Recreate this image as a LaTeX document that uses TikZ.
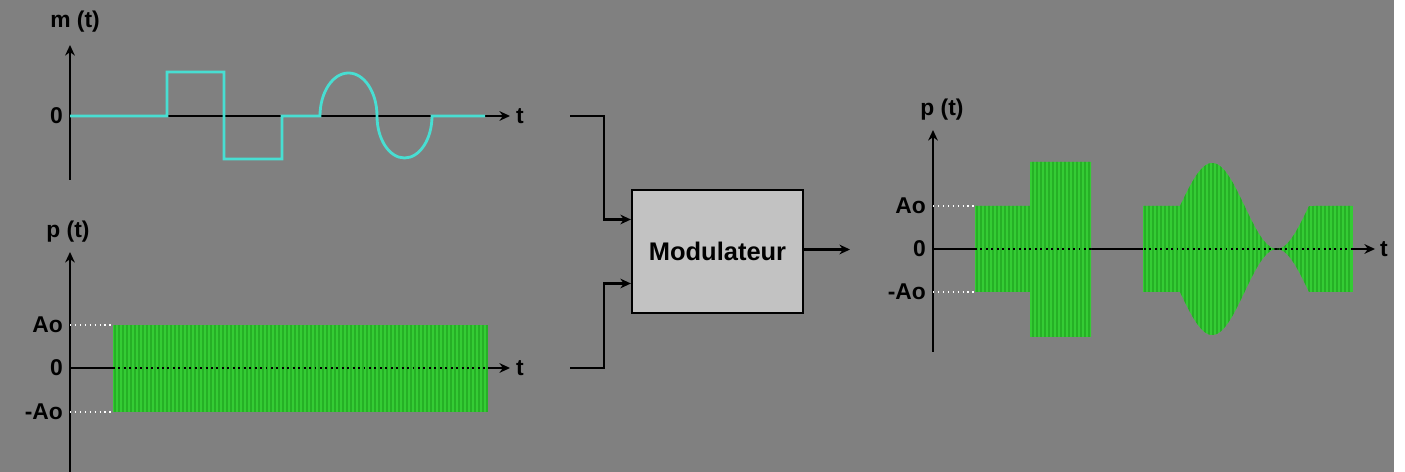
\documentclass[tikz,border=0pt]{standalone}
\usepackage{fontspec}
\setmainfont{Liberation Sans}
\usetikzlibrary{arrows.meta, positioning, calc}
\definecolor{bggray}{RGB}{128,128,128}
\definecolor{sigcyan}{RGB}{72,222,210}
\definecolor{carrier}{RGB}{52,204,52}
\definecolor{carrierdark}{RGB}{38,176,38}
\definecolor{boxgray}{RGB}{194,194,194}

\begin{document}
\begin{tikzpicture}[
    x=0.02cm, y=-0.02cm,
    axis/.style={-{Stealth[length=6pt,width=5.5pt]}, line width=1.4pt, black},
    link/.style={-{Stealth[length=6pt,width=5.5pt]}, line width=1.3pt, black},
    lbl/.style={font=\fontsize{13}{15}\selectfont\bfseries, inner sep=1pt},
    tick/.style={font=\fontsize{13}{15}\selectfont\bfseries, inner sep=1pt, anchor=east},
    level/.style={white, dotted, line width=0.8pt},
    zero/.style={black, dotted, line width=1.1pt},
    stripe/.style={carrierdark, line width=0.8pt},
    block/.style={draw=black, line width=1.3pt, fill=boxgray, minimum width=3.42cm, minimum height=2.46cm, font=\fontsize{14.5}{17}\selectfont\bfseries}
]

% background
\fill[white] (0,0) rectangle (1405,472);
\fill[bggray] (0,0) rectangle (1394,472);
\useasboundingbox (0,0) rectangle (1405,472);

% message m(t)
\coordinate (mbot) at (70,180);
\coordinate (mtop) at (70,45);
\coordinate (morig) at (70,116);
\coordinate (mend) at (510,116);
\draw[axis] (mbot) -- (mtop);
\draw[axis] (morig) -- (mend);
\node[lbl] (mlab) at (75,22) {m (t)};
\node[tick] (mzero) at (65,116) {0};
\node[lbl, anchor=west] (mt) at (514,116) {t};
\draw[sigcyan, line width=1.6pt] (morig) -- (167,116) -- (167,72) -- (224,72) -- (224,159) -- (282,159) -- (282,116) -- (320,116)
    arc[start angle=180, end angle=360, x radius=28.5, y radius=43]
    arc[start angle=180, end angle=0, x radius=27.5, y radius=42] -- (485,116);

% carrier p(t)
\coordinate (cbot) at (70,472);
\coordinate (ctop) at (70,252);
\coordinate (corig) at (70,368);
\coordinate (cend) at (510,368);
\draw[axis] (cbot) -- (ctop);
\draw[axis] (corig) -- (cend);
\node[lbl] (clab) at (68,232) {p (t)};
\node[tick] (cao) at (65,325) {Ao};
\node[tick] (czero) at (65,368) {0};
\node[tick] (cmao) at (65,412) {-Ao};
\node[lbl, anchor=west] (ct) at (514,368) {t};
\fill[carrier] (113,325) rectangle (488,412);
\foreach \x in {115,119,...,487}
    \draw[stripe] (\x,325) -- (\x,412);
\draw[level] (70,325) -- (113,325);
\draw[level] (70,412) -- (113,412);
\draw[zero] (113,368) -- (488,368);

% modulator
\node[block] (mod) at (717.5,251.5) {Modulateur};
\coordinate (in1) at (570,116);
\coordinate (in2) at (570,368);
\coordinate (out1) at (850,249.5);
\draw[link] (in1) -| ($(mod.west)+(-27,-32)$) -- ($(mod.west)+(0,-32)$);
\draw[link] (in2) -| ($(mod.west)+(-27,32)$) -- ($(mod.west)+(0,32)$);
\draw[link] (mod.east |- out1) -- (out1);

% modulated p(t)
\coordinate (pbot) at (933,352);
\coordinate (ptop) at (933,130);
\coordinate (porig) at (933,249);
\coordinate (pend) at (1375,249);
\draw[axis] (pbot) -- (ptop);
\draw[axis] (porig) -- (pend);
\node[lbl] (plab) at (942,110) {p (t)};
\node[tick] (pao) at (928,206) {Ao};
\node[tick] (pzero) at (928,249) {0};
\node[tick] (pmao) at (928,292) {-Ao};
\node[lbl, anchor=west] (pt) at (1378,249) {t};
\begin{scope}
\clip (975,206) rectangle (1030,292) (1030,162) rectangle (1091,337)
    (1143,206) -- (1180,206)
    -- plot[domain=1180:1309, samples=60] (\x,{249-43*(1+sin((\x-1180)/129*360))})
    -- (1353,206) -- (1353,292) -- (1309,292)
    -- plot[domain=1309:1180, samples=60] (\x,{249+43*(1+sin((\x-1180)/129*360))})
    -- (1143,292) -- cycle;
\fill[carrier] (975,160) rectangle (1353,340);
\foreach \x in {977,981,...,1351}
    \draw[stripe] (\x,160) -- (\x,340);
\end{scope}
\draw[level] (933,206) -- (975,206);
\draw[level] (933,292) -- (975,292);
\draw[zero] (975,249) -- (1353,249);

\end{tikzpicture}
\end{document}
